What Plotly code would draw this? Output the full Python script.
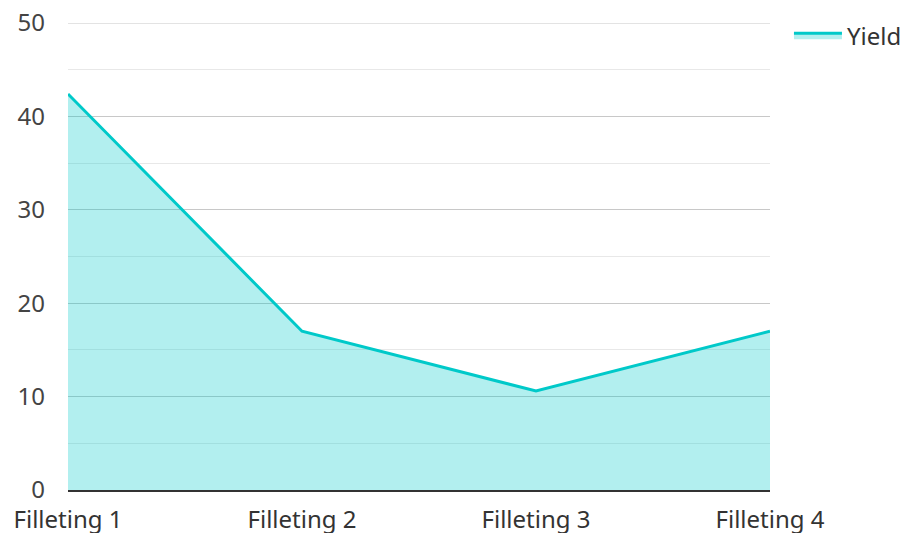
import plotly.graph_objects as go

categories = ["Filleting 1", "Filleting 2", "Filleting 3", "Filleting 4"]
yield_values = [42.4, 17.0, 10.6, 17.0]
y_ticks = [0, 10, 20, 30, 40, 50]

fig = go.Figure()
fig.add_trace(go.Scatter(
    x=list(range(len(categories))),
    y=yield_values,
    name="Yield",
    mode="lines",
    line=dict(color="#00C9C9", width=3),
    fill="tozeroy",
    fillcolor="rgba(0,201,201,0.30)",
))

# top gridline (plotly drops gridlines lying on the plot edge)
fig.add_shape(type="line", xref="paper", x0=0, x1=1, yref="y", y0=50, y1=50,
              line=dict(color="#c8c8c8", width=1), layer="below")

# the page body has an 8px margin, so margins are reduced to compensate
fig.update_layout(
    width=895, height=525,
    margin=dict(l=60, r=133, t=15, b=43, autoexpand=False),
    plot_bgcolor="white",
    paper_bgcolor="white",
    font=dict(family="Noto Sans, Open Sans, sans-serif", size=24, color="#444"),
    showlegend=True,
    legend=dict(x=1.027, y=1.021, xanchor="left", yanchor="top",
                font=dict(size=24, color="#333"), itemwidth=48,
                bgcolor="rgba(0,0,0,0)"),
    xaxis=dict(
        range=[0, 3],
        tickvals=list(range(len(categories))),
        ticktext=categories,
        showgrid=False,
        zeroline=False,
        showline=True, linecolor="#333", linewidth=2,
        ticks="", ticklabelstandoff=7, automargin=False,
        ticklabeloverflow="allow",
        tickfont=dict(color="#333", size=24),
    ),
    yaxis=dict(
        range=[0, 50],
        tickvals=y_ticks,
        showgrid=True, gridcolor="#c8c8c8", gridwidth=1,
        zeroline=False,
        showline=False,
        ticks="", ticklabelstandoff=22, automargin=False,
        ticklabeloverflow="allow",
        tickfont=dict(color="#444", size=24),
        minor=dict(dtick=5, showgrid=True, gridcolor="#e8e8e8", gridwidth=1),
    ),
)

fig.write_html("out.html")
